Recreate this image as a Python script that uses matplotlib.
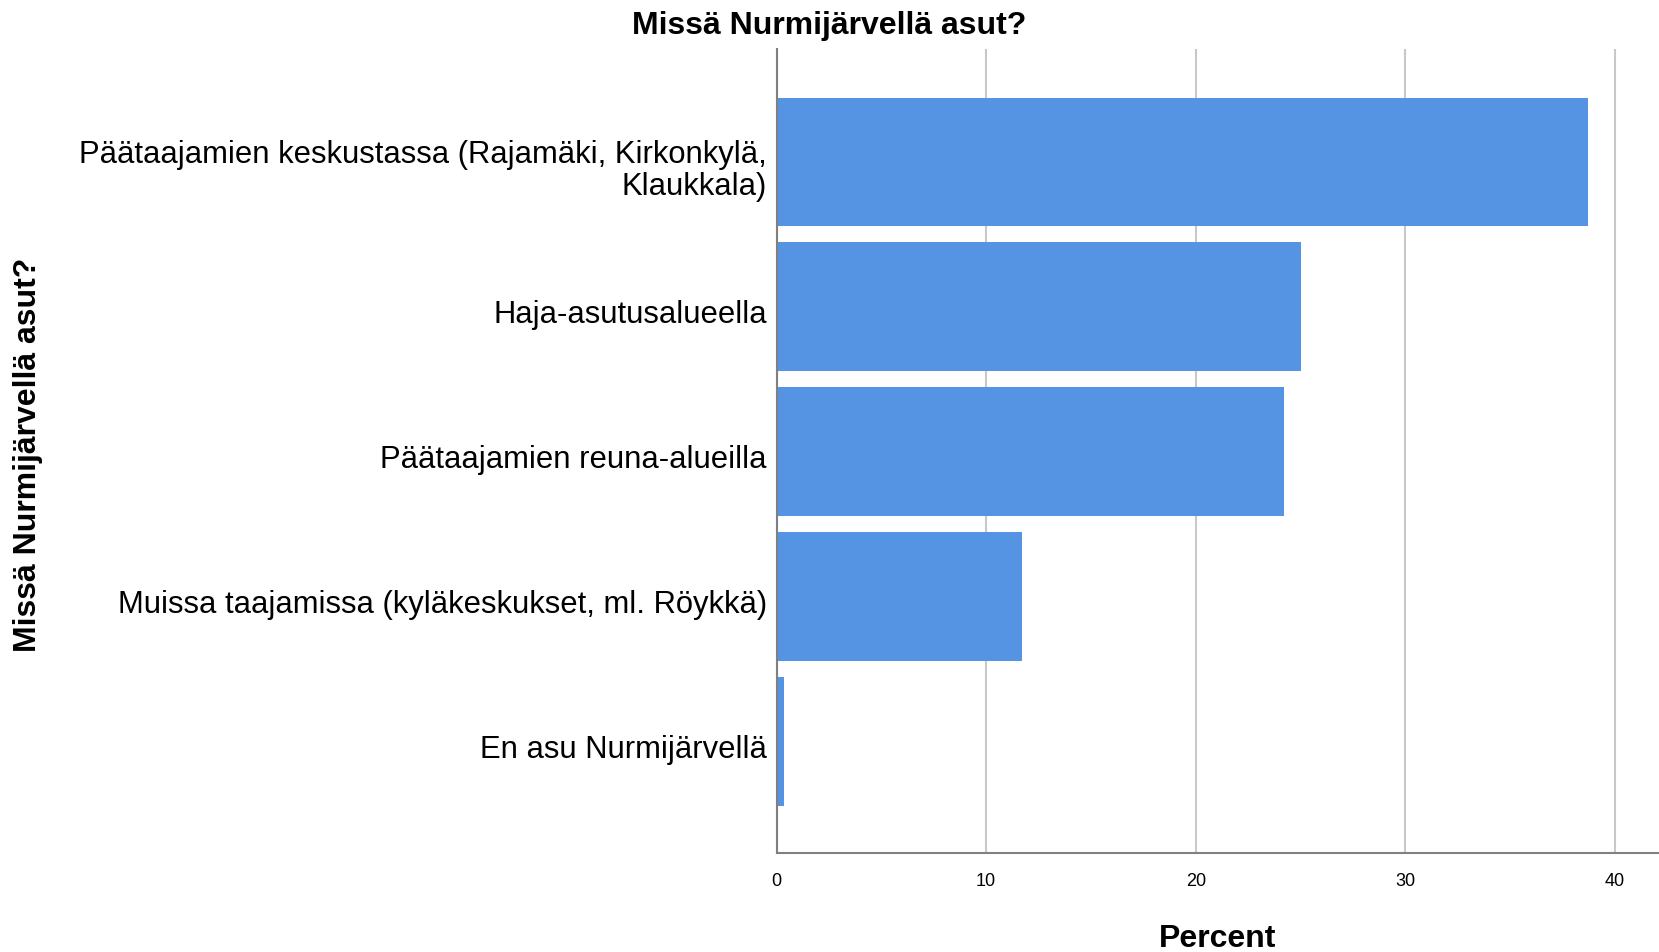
import matplotlib
matplotlib.use("Agg")
import matplotlib.pyplot as plt
import matplotlib.transforms as mtransforms

categories = [
    "Päätaajamien keskustassa (Rajamäki, Kirkonkylä,\nKlaukkala)",
    "Haja-asutusalueella",
    "Päätaajamien reuna-alueilla",
    "Muissa taajamissa (kyläkeskukset, ml. Röykkä)",
    "En asu Nurmijärvellä",
]
percent = [38.7, 25.0, 24.2, 11.7, 0.35]
xticks = [0, 10, 20, 30, 40]

plt.rcParams['font.family'] = ['Liberation Sans', 'DejaVu Sans']

W, H = 1659, 953
fig = plt.figure(figsize=(W / 100, H / 100), dpi=100)
left, right, top, bottom = 776.5, 1659, 50, 854
ax = fig.add_axes([left / W, 1 - bottom / H, (right - left) / W, (bottom - top) / H])

ypos = list(range(len(categories)))
ax.barh(ypos, percent, height=0.89, color='#5594E3', zorder=3)
ax.set_ylim(len(categories) - 1 + 0.77, -0.78)
ax.set_xlim(0, 42.1)
ax.set_yticks(ypos)
ax.set_yticklabels(categories, fontsize=22.3, linespacing=1.05)
ax.set_xticks(xticks)
ax.set_xticklabels([str(t) for t in xticks], fontsize=13)
ax.tick_params(axis='y', length=0, pad=7)
ax.tick_params(axis='x', length=0, pad=14)
ax.grid(axis='x', color='#c8c8c8', linewidth=1.5, zorder=0)
for s in ['top', 'right']:
    ax.spines[s].set_visible(False)
for s in ['left', 'bottom']:
    ax.spines[s].set_color('#808080')
    ax.spines[s].set_linewidth(1.5)
    ax.spines[s].set_zorder(4)

offset = mtransforms.ScaledTranslation(0, -4 / 100, fig.dpi_scale_trans)
for lbl in ax.get_yticklabels():
    lbl.set_transform(lbl.get_transform() + offset)

fig.text(0.5, 1 - 26 / H, "Missä Nurmijärvellä asut?", ha='center', va='center',
         fontsize=23, fontweight='bold')
fig.text((left + right) / 2 / W, 1 - 939 / H, "Percent", ha='center', va='center',
         fontsize=23, fontweight='bold')
fig.text(28.5 / W, 1 - 455 / H, "Missä Nurmijärvellä asut?", ha='center', va='center',
         fontsize=23, fontweight='bold', rotation=90)

fig.savefig("out.png", dpi=100)
